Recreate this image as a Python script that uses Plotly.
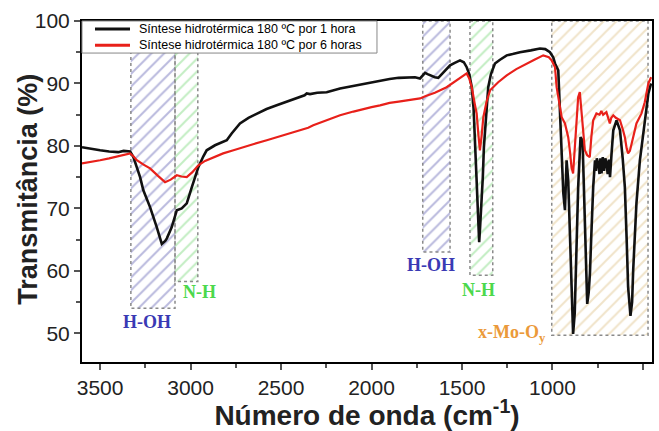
import plotly.graph_objects as go

# ---------------- data ----------------
wn_1h = [3600, 3550, 3500, 3450, 3400, 3370, 3334, 3316, 3279, 3261, 3224, 3187, 3159, 3140, 3131,
         3104, 3085, 3076, 3049, 3021, 2993, 2957, 2930, 2911, 2865, 2820, 2800, 2773, 2727, 2680,
         2634, 2580, 2524, 2460, 2395, 2370, 2358, 2340, 2300, 2248, 2174, 2100, 2050, 2000, 1953,
         1900, 1850, 1800, 1760, 1732, 1715, 1704, 1690, 1677, 1650, 1631, 1600, 1566, 1540, 1511,
         1490, 1474, 1460, 1446, 1436, 1428, 1420, 1414, 1408, 1405, 1400, 1396, 1392, 1385, 1379,
         1367, 1355, 1340, 1318, 1290, 1253, 1220, 1180, 1120, 1069, 1040, 1014, 996, 986, 968,
         958, 949, 940, 931, 922, 913, 905, 895, 886, 877, 868, 858, 845, 834, 828,
         821, 815, 808, 800, 793, 785, 775, 765, 760, 755, 747, 740, 735, 729, 722,
         715, 708, 701, 695, 688, 682, 673, 664, 646, 627, 612, 600, 590, 582, 569,
         560, 554, 545, 536, 517, 500, 489, 470, 455]
t_1h = [79.8, 79.5, 79.3, 79.1, 79.0, 79.2, 79.1, 78.2, 75.0, 72.9, 70.2, 67.0, 64.3, 64.8, 65.2,
        67.0, 69.0, 69.7, 70.0, 70.8, 73.4, 76.6, 78.3, 79.3, 80.1, 80.6, 80.9, 82.0, 83.6, 84.5,
        85.2, 85.9, 86.5, 87.2, 87.8, 88.1, 88.4, 88.3, 88.5, 88.6, 89.2, 89.6, 89.9, 90.2, 90.5,
        90.7, 90.9, 91.0, 91.0, 90.8, 91.3, 91.7, 91.5, 91.3, 91.0, 90.9, 91.8, 92.9, 93.3, 93.7,
        93.4, 92.6, 91.5, 89.4, 86.0, 81.4, 75.0, 70.8, 66.0, 64.6, 67.0, 69.0, 70.8, 75.0, 79.8,
        85.0, 89.4, 91.5, 93.2, 93.8, 94.5, 94.7, 95.0, 95.3, 95.6, 95.5, 95.0, 94.2, 93.2, 92.1,
        84.1, 78.8, 72.4, 69.7, 77.7, 74.5, 66.0, 56.4, 49.9, 53.2, 62.0, 73.4, 81.4, 80.9, 75.0,
        68.1, 60.0, 54.7, 56.5, 59.6, 66.0, 73.4, 77.7, 76.0, 78.0, 77.2, 75.5, 78.0, 75.6, 78.2,
        76.0, 78.0, 77.2, 75.5, 77.8, 75.0, 79.0, 82.5, 84.1, 82.5, 78.0, 73.4, 65.0, 57.4, 52.8,
        55.0, 60.1, 66.0, 70.8, 77.7, 81.5, 84.1, 88.4, 90.0]

wn_6h = [3600, 3550, 3500, 3450, 3400, 3360, 3334, 3315, 3297, 3260, 3224, 3180, 3141, 3110, 3090,
         3076, 3050, 3021, 2990, 2957, 2920, 2874, 2820, 2763, 2700, 2650, 2579, 2500, 2440, 2395,
         2350, 2322, 2250, 2174, 2100, 2050, 2000, 1953, 1900, 1850, 1800, 1760, 1732, 1700, 1650,
         1585, 1530, 1490, 1474, 1460, 1446, 1430, 1419, 1410, 1401, 1392, 1382, 1365, 1345, 1300,
         1253, 1200, 1143, 1100, 1051, 1020, 1005, 986, 977, 968, 958, 949, 931, 913, 903,
         895, 886, 876, 866, 858, 849, 842, 836, 828, 821, 808, 794, 785, 775, 757,
         740, 730, 720, 702, 690, 683, 675, 664, 650, 627, 610, 600, 590, 582, 572,
         563, 550, 536, 520, 508, 490, 470, 455]
t_6h = [77.2, 77.4, 77.7, 78.0, 78.3, 78.6, 78.8, 78.3, 77.7, 77.0, 76.4, 75.2, 74.2, 74.6, 75.0,
        75.3, 75.1, 75.0, 75.8, 76.9, 77.6, 78.2, 78.8, 79.3, 79.9, 80.3, 80.9, 81.6, 82.1, 82.5,
        82.9, 83.3, 84.1, 84.9, 85.5, 85.9, 86.2, 86.5, 86.9, 87.1, 87.3, 87.4, 87.6, 88.0, 88.5,
        89.4, 90.5, 91.3, 91.6, 90.8, 89.4, 86.8, 85.2, 82.0, 79.3, 81.5, 84.6, 87.0, 88.9, 90.2,
        91.3, 92.3, 93.2, 93.8, 94.5, 94.2, 93.7, 92.6, 89.4, 88.0, 86.0, 84.6, 83.6, 81.4, 79.0,
        76.6, 75.6, 79.8, 84.0, 87.8, 88.6, 86.5, 84.1, 81.5, 79.3, 78.5, 78.2, 81.5, 84.1, 85.2,
        85.0, 85.6, 85.0, 85.4, 84.2, 83.6, 84.5, 84.9, 84.5, 84.1, 82.5, 81.4, 79.6, 78.8, 79.2,
        80.4, 82.0, 83.6, 84.5, 85.2, 87.0, 90.0, 91.0]

series_names = ["Síntese hidrotérmica 180 ºC por 1 hora", "Síntese hidrotérmica 180 ºC por 6 horas"]
series_colors = ["#111111", "#e8201a"]
series_widths = [2.6, 2.2]

# band regions: (high wavenumber, low wavenumber, bottom transmittance)
band_labels = ["H-OH", "N-H", "H-OH", "N-H", "x-Mo-O<sub>y</sub>"]
band_hi = [3330, 3086, 1717, 1456, 1004]
band_lo = [3086, 2960, 1566, 1330, 472]
band_bottom = [54.0, 58.3, 63.0, 59.3, 49.7]
band_label_x = [3240, 2948, 1671, 1410, 1225]
band_label_y = [51.8, 56.6, 60.9, 57.0, 49.9]
band_hatch = ["#7474bc", "#86dc86", "#7474bc", "#86dc86", "#e2c894"]
band_text = ["#3a3ab4", "#4cd84c", "#3a3ab4", "#4cd84c", "#eb9a3a"]

x_ticks = [3500, 3000, 2500, 2000, 1500, 1000, 500]
y_ticks = [50, 60, 70, 80, 90, 100]

# ---------------- figure ----------------
fig = go.Figure()
TOP = 100
for i in range(len(band_labels)):
    xs = [band_hi[i], band_lo[i], band_lo[i], band_hi[i], band_hi[i]]
    ys = [TOP, TOP, band_bottom[i], band_bottom[i], TOP]
    fig.add_trace(go.Scatter(
        x=xs, y=ys, mode="lines", fill="toself",
        fillcolor="rgba(255,255,255,0)",
        fillpattern=dict(shape="/", fgcolor=band_hatch[i], bgcolor="rgba(255,255,255,0)",
                         size=9, solidity=0.22),
        line=dict(color="#8a8a8a", width=1.5, dash="dot"),
        showlegend=False, hoverinfo="skip"))
    fig.add_annotation(x=band_label_x[i], y=band_label_y[i], text="<b>" + band_labels[i] + "</b>",
                       showarrow=False, xref="x", yref="y",
                       font=dict(family="Liberation Serif", size=18, color=band_text[i]))

fig.add_trace(go.Scatter(x=wn_1h, y=t_1h, mode="lines", name=series_names[0], showlegend=False,
                         line=dict(color=series_colors[0], width=series_widths[0])))
fig.add_trace(go.Scatter(x=wn_6h, y=t_6h, mode="lines", name=series_names[1], showlegend=False,
                         line=dict(color=series_colors[1], width=series_widths[1])))

# compact legend box (paper coordinates)
fig.add_shape(type="rect", xref="paper", yref="paper", x0=0, x1=0.5175, y0=0.906, y1=1,
              line=dict(color="#888", width=1), fillcolor="white", layer="above")
leg_y = [0.9765, 0.9289]
for i in range(2):
    fig.add_shape(type="line", xref="paper", yref="paper", x0=0.0228, x1=0.0842,
                  y0=leg_y[i], y1=leg_y[i], line=dict(color=series_colors[i], width=3), layer="above")
fig.add_annotation(xref="paper", yref="paper", x=0.0965, y=(leg_y[0] + leg_y[1]) / 2,
                   xanchor="left", yanchor="middle", align="left",
                   text="<br>".join(series_names), showarrow=False,
                   font=dict(family="Liberation Sans, Arial", size=12.5, color="black"))

# y-axis title placed close to the tick labels as in the reference
fig.add_annotation(xref="paper", yref="paper", x=-0.0947, y=0.505, xanchor="center",
                   yanchor="middle", textangle=-90, showarrow=False,
                   text="<b>Transmitância (%)</b>",
                   font=dict(family="Liberation Sans, Arial", size=27, color="#222"))

axis_common = dict(showline=True, linecolor="black", linewidth=2, mirror=True,
                   ticks="outside", ticklen=6, tickwidth=1.5, tickcolor="#555",
                   showgrid=False, zeroline=False, automargin=False,
                   tickfont=dict(family="Liberation Sans, Arial", size=21, color="#222"))

fig.update_layout(
    width=659, height=431,
    margin=dict(l=82, r=7, t=21, b=69),
    plot_bgcolor="white", paper_bgcolor="white",
    font=dict(family="Liberation Sans, Arial", color="#222"),
    showlegend=False,
    xaxis=dict(range=[3600, 450], tickvals=x_ticks,
               minor=dict(ticks="outside", ticklen=4, dtick=250, tickcolor="#555", showgrid=False),
               title=dict(text="<b>Número de onda (cm<sup>-1</sup>)</b>", standoff=12,
                          font=dict(family="Liberation Sans, Arial", size=28, color="#222")),
               **axis_common),
    yaxis=dict(range=[45.4, 100], tickvals=y_ticks,
               minor=dict(ticks="outside", ticklen=4, dtick=5, tickcolor="#555", showgrid=False),
               **axis_common),
)

fig.write_html("out.html")
